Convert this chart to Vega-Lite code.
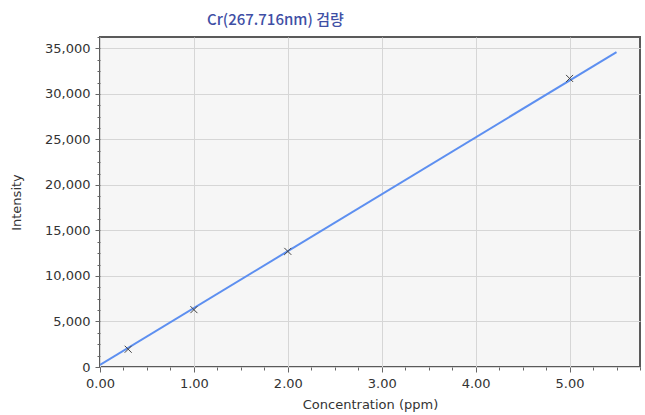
{
  "$schema": "https://vega.github.io/schema/vega-lite/v6.json",
  "width": 540,
  "height": 330,
  "autosize": "none",
  "padding": {"left": 100, "top": 37, "right": 5, "bottom": 48},
  "background": "white",
  "config": {
    "view": {"stroke": "#5a5a5a", "strokeWidth": 2, "fill": "#f6f6f6"},
    "font": "DejaVu Sans"
  },
  "title": {
    "text": "Cr(267.716nm) 검량",
    "font": "Noto Sans CJK KR",
    "fontSize": 15,
    "fontWeight": 500,
    "color": "#3f4fa5",
    "anchor": "start",
    "frame": "group",
    "dx": 107,
    "dy": 21,
    "baseline": "alphabetic",
    "offset": 12
  },
  "datasets": {
    "fit": [
      {"conc": 0, "intensity": 230},
      {"conc": 5.5, "intensity": 34600}
    ],
    "standards": [
      {"conc": 0.3, "intensity": 1950},
      {"conc": 1.0, "intensity": 6300},
      {"conc": 2.0, "intensity": 12700},
      {"conc": 5.0, "intensity": 31700}
    ]
  },
  "encoding": {
    "x": {
      "field": "conc",
      "type": "quantitative",
      "title": "Concentration (ppm)",
      "scale": {"domain": [0, 5.75], "nice": false, "zero": false},
      "axis": {
        "values": [0, 0.25, 0.5, 0.75, 1, 1.25, 1.5, 1.75, 2, 2.25, 2.5, 2.75, 3, 3.25, 3.5, 3.75, 4, 4.25, 4.5, 4.75, 5, 5.25, 5.5, 5.75],
        "labelExpr": "abs(datum.value - round(datum.value)) < 0.001 ? format(datum.value, '.2f') : ''",
        "domain": false,
        "grid": true,
        "gridColor": "#d6d6d6",
        "gridWidth": 1,
        "gridOpacity": {"condition": {"test": "abs(datum.value - round(datum.value)) < 0.001", "value": 1}, "value": 0},
        "tickColor": "#666666",
        "tickSize": {"condition": {"test": "abs(datum.value - round(datum.value)) < 0.001", "value": 5}, "value": 3},
        "tickOffset": 0,
        "labelFont": "DejaVu Sans",
        "labelFontSize": 13,
        "labelColor": "#333333",
        "labelPadding": 5,
        "labelFlush": false,
        "labelOverlap": false,
        "titleFont": "DejaVu Sans",
        "titleFontSize": 13,
        "titleFontWeight": "normal",
        "titleColor": "#333333",
        "titleBaseline": "middle",
        "titleY": 37
      }
    },
    "y": {
      "field": "intensity",
      "type": "quantitative",
      "title": "Intensity",
      "scale": {"domain": [0, 36250], "nice": false, "zero": false},
      "axis": {
        "values": [0, 1250, 2500, 3750, 5000, 6250, 7500, 8750, 10000, 11250, 12500, 13750, 15000, 16250, 17500, 18750, 20000, 21250, 22500, 23750, 25000, 26250, 27500, 28750, 30000, 31250, 32500, 33750, 35000, 36250],
        "labelExpr": "datum.value % 5000 === 0 ? format(datum.value, ',') : ''",
        "domain": false,
        "grid": true,
        "gridColor": "#d6d6d6",
        "gridWidth": 1,
        "gridOpacity": {"condition": {"test": "datum.value % 5000 === 0", "value": 1}, "value": 0},
        "tickColor": "#666666",
        "tickSize": {"condition": {"test": "datum.value % 5000 === 0", "value": 5}, "value": 3},
        "labelFont": "DejaVu Sans",
        "labelFontSize": 13,
        "labelColor": "#333333",
        "labelPadding": 5,
        "labelFlush": false,
        "labelOverlap": false,
        "titleFont": "DejaVu Sans",
        "titleFontSize": 13,
        "titleFontWeight": "normal",
        "titleColor": "#333333",
        "titleAngle": -90,
        "titleAlign": "center",
        "titleBaseline": "middle",
        "titleX": -84,
        "titleY": 165
      }
    }
  },
  "layer": [
    {
      "data": {"name": "fit"},
      "mark": {"type": "line", "color": "#5d8ff0", "strokeWidth": 2, "clip": true}
    },
    {
      "data": {"name": "standards"},
      "mark": {
        "type": "point",
        "shape": "M-1,-1L1,1M-1,1L1,-1",
        "filled": false,
        "stroke": "#444444",
        "strokeWidth": 1,
        "size": 49,
        "opacity": 1
      }
    }
  ]
}
